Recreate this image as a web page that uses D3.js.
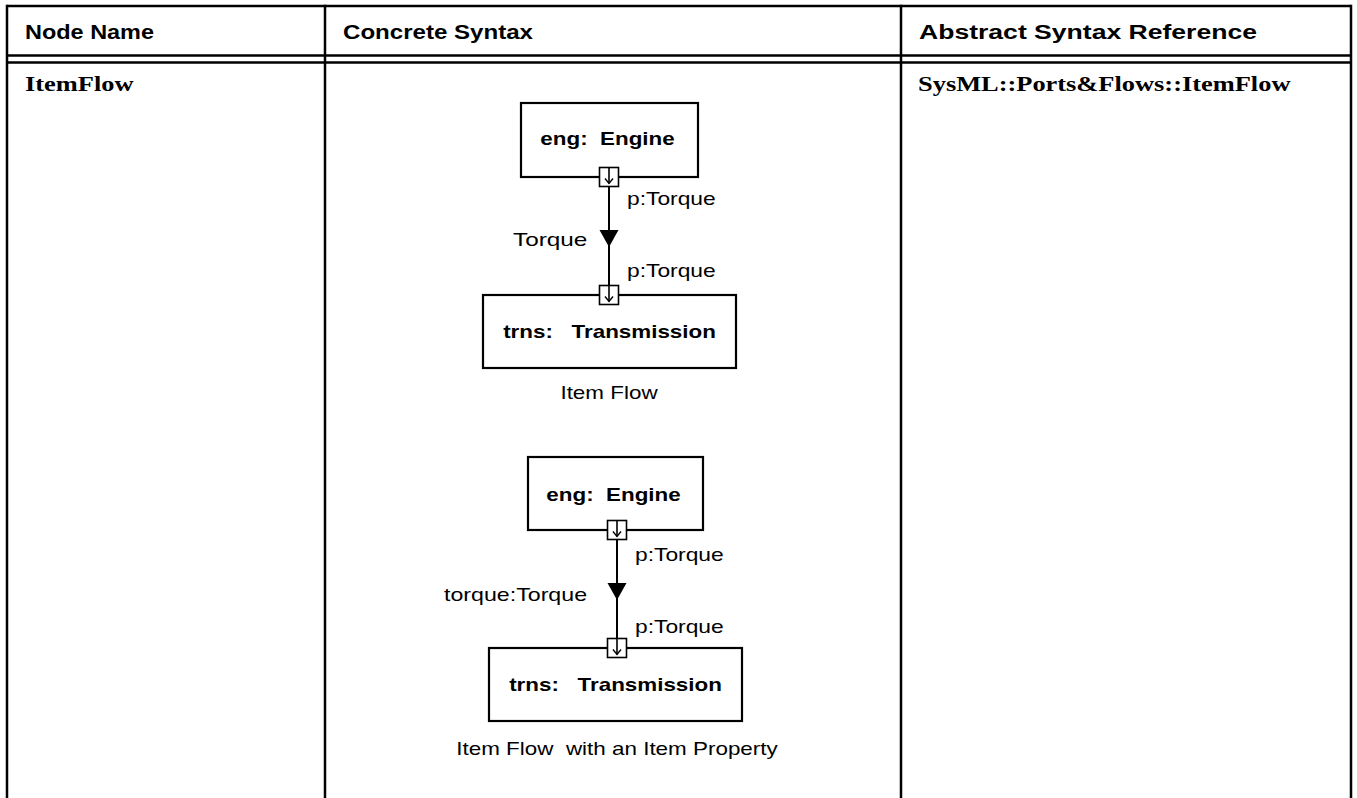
<!DOCTYPE html>
<html><head><meta charset="utf-8">
<script src="https://cdn.jsdelivr.net/npm/d3@7"></script>
<style>body{margin:0;background:#fff} svg{display:block} text{white-space:pre}</style>
</head><body><svg id="c" width="1357" height="798"></svg>
<script>
// ---- data (text content) ----
const headers = ["Node Name", "Concrete Syntax", "Abstract Syntax Reference"];
const nodeNames = ["ItemFlow"];
const abstractRefs = ["SysML::Ports&Flows::ItemFlow"];
const partLabels = [["eng:  Engine", "trns:   Transmission"], ["eng:  Engine", "trns:   Transmission"]];
const portLabels = [["p:Torque", "p:Torque"], ["p:Torque", "p:Torque"]];
const flowLabels = ["Torque", "torque:Torque"];
const captions = ["Item Flow", "Item Flow  with an Item Property"];

// ---- layout ----
const W = 1357, H = 798;
const svg = d3.select("#c");
const colEdges = [7, 325, 901, 1351];
const x = d3.scaleOrdinal().domain(headers).range(colEdges.slice(0, 3));
const headerWidths = [129, 190, 338];
const LW = 2.5;

function stretch(t, sx, anchor, cx) {
  t.each(function () {
    const L = this.getComputedTextLength();
    const el = d3.select(this);
    el.attr("textLength", L * sx).attr("lengthAdjust", "spacingAndGlyphs");
    if (anchor === "middle") el.attr("x", cx - L * sx / 2);
    if (anchor === "end") el.attr("x", cx - L * sx);
  });
  return t;
}

// table lines
const g = svg.append("g").attr("stroke", "#000").attr("stroke-width", LW).attr("fill", "none");
g.append("line").attr("x1", colEdges[0]).attr("x2", colEdges[3]).attr("y1", 6).attr("y2", 6);
[55.5, 62.5].forEach(y => g.append("line").attr("x1", colEdges[0]).attr("x2", colEdges[3]).attr("y1", y).attr("y2", y));
colEdges.forEach(cx => g.append("line").attr("x1", cx).attr("x2", cx).attr("y1", 6 - LW / 2).attr("y2", H));

// headers
svg.selectAll("text.hdr").data(headers).join("text").attr("class", "hdr")
  .attr("x", d => x(d) + 18).attr("y", 38.5)
  .attr("font-family", "Liberation Sans, Arial, sans-serif").attr("font-weight", "bold").attr("font-size", 20)
  .attr("fill", "#000")
  .text(d => d)
  .attr("textLength", (d, i) => headerWidths[i]).attr("lengthAdjust", "spacingAndGlyphs");

// row content
const serif = "Liberation Serif, Times New Roman, serif";
svg.append("text").attr("x", colEdges[0] + 18).attr("y", 91)
  .attr("font-family", serif).attr("font-weight", "bold").attr("font-size", 22)
  .text(nodeNames[0]).call(stretch, 1.2);
svg.append("text").attr("x", colEdges[2] + 17).attr("y", 91)
  .attr("font-family", serif).attr("font-weight", "bold").attr("font-size", 22)
  .text(abstractRefs[0]).call(stretch, 1.2);

// diagrams
const diagrams = [
  {cx: 609, eng: {x: 521, y: 103, w: 177, h: 74}, engT: 145, tr: {x: 483, y: 295, w: 253, h: 73}, trT: 338,
   cap: 399, arrTop: 230, arrTip: 247, p1: 205, p2: 277, flowY: 246, flowX: 513},
  {cx: 617, eng: {x: 528, y: 457, w: 175, h: 73}, engT: 501, tr: {x: 489, y: 648, w: 253, h: 73}, trT: 691,
   cap: 755, arrTop: 583, arrTip: 600, p1: 561, p2: 633, flowY: 601, flowX: 444}
];
const FF = "Liberation Sans, Arial, sans-serif";
diagrams.forEach((d, i) => {
  const dg = svg.append("g");
  const box = (b) => dg.append("rect").attr("x", b.x).attr("y", b.y).attr("width", b.w).attr("height", b.h)
    .attr("fill", "#fff").attr("stroke", "#000").attr("stroke-width", 2.2);
  const yA = d.eng.y + d.eng.h, yB = d.tr.y;
  dg.append("line").attr("x1", d.cx).attr("x2", d.cx).attr("y1", yA).attr("y2", yB)
    .attr("stroke", "#000").attr("stroke-width", 2);
  box(d.eng); box(d.tr);
  [yA, yB].forEach(py => {
    const ps = 19;
    dg.append("rect").attr("x", d.cx - ps / 2).attr("y", py - ps / 2).attr("width", ps).attr("height", ps)
      .attr("fill", "#fff").attr("stroke", "#000").attr("stroke-width", 1.6);
    dg.append("line").attr("x1", d.cx).attr("x2", d.cx).attr("y1", py - ps / 2).attr("y2", py + ps / 2 - 3)
      .attr("stroke", "#000").attr("stroke-width", 1.6);
    dg.append("path").attr("d", `M${d.cx - 4},${py + 1.5} L${d.cx},${py + ps / 2 - 3} L${d.cx + 4},${py + 1.5}`)
      .attr("fill", "none").attr("stroke", "#000").attr("stroke-width", 1.4);
  });
  dg.append("path").attr("d", `M${d.cx - 9.5},${d.arrTop} L${d.cx + 9.5},${d.arrTop} L${d.cx},${d.arrTip} Z`).attr("fill", "#000");
  const t = (txt, xx, yy, anchor, bold, sx) => dg.append("text").attr("x", xx).attr("y", yy)
    .attr("font-family", FF).attr("font-size", bold ? 18.5 : 19).attr("font-weight", bold ? "bold" : "normal")
    .attr("fill", "#000").text(txt).call(stretch, sx || (bold ? 1.21 : 1.2), anchor, xx);
  t(partLabels[i][0], d.eng.x + d.eng.w / 2 - 2, d.engT, "middle", true);
  t(partLabels[i][1], d.tr.x + d.tr.w / 2, d.trT, "middle", true);
  t(portLabels[i][0], d.cx + 18, d.p1, "start");
  t(portLabels[i][1], d.cx + 18, d.p2, "start");
  t(flowLabels[i], d.flowX, d.flowY, "start", false, i === 0 ? 1.28 : 1.22);
  t(captions[i], d.cx, d.cap, "middle", false, 1.18);
});
</script></body></html>
